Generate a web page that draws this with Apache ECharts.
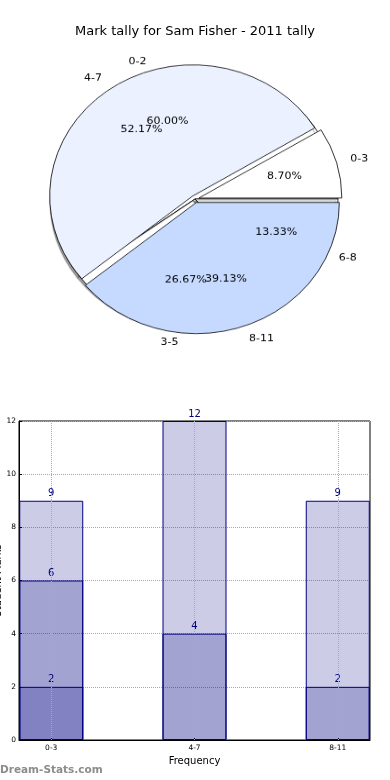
<!DOCTYPE html>
<html>
<head>
<meta charset="utf-8">
<script src="https://cdn.jsdelivr.net/npm/echarts@6/dist/echarts.min.js"></script>
<style>
html,body{margin:0;padding:0;background:#fff;}
#wrap{position:relative;width:390px;height:780px;}
#main{position:absolute;left:0;top:0;width:390px;height:780px;}
#pie{position:absolute;left:0;top:0;width:390px;height:400px;transform:scaleY(0.9172);transform-origin:0 0;}
</style>
</head>
<body>
<div id="wrap"><div id="main"></div><div id="pie"></div></div>
<script>
// Pie 1 (bottom layer)
const pieANames = ['0-2', '3-5', '6-8'];
const pieAValues = [9, 4, 2];
// Pie 2 (top layer)
const pieBNames = ['0-3', '4-7', '8-11'];
const pieBValues = [2, 12, 9];
// Bars (overlaid)
const barCategories = ['0-3', '4-7', '8-11'];
const barLayer1 = [9, 12, 9];
const barLayer2 = [6, 4, 2];
const barLayer3 = [2, null, null];
const yTicks = [0, 2, 4, 6, 8, 10, 12];

const FONT = 'DejaVu Sans';
const SY = 0.9172;          // vertical squash of the pie container (elliptical pie)
const R = 143;
const CX = 195, CY = 199 / SY;
const pieBColors = ['#ffffff', '#ebf1ff', '#c6d9ff'];

function pct(vals, i) {
  const s = vals.reduce((a, b) => a + b, 0);
  return (vals[i] / s * 100).toFixed(2) + '%';
}

const nameLabel = {
  show: true, position: 'outside', color: '#000', fontSize: 11, fontFamily: FONT,
  distanceToLabelLine: 0
};
const nameLabelLine = { show: false, length: R * 0.1, length2: 0 };

const pieSeries = [];
pieSeries.push({
  type: 'pie', center: [CX, CY], radius: R, startAngle: 0, clockwise: false,
  avoidLabelOverlap: false, silent: true, animation: false, z: 1,
  labelLayout: { hideOverlap: false },
  label: nameLabel, labelLine: nameLabelLine,
  itemStyle: { color: '#ffffff', borderColor: '#000', borderWidth: 0.8,
    shadowColor: 'rgba(0,0,0,0.4)', shadowBlur: 1, shadowOffsetX: -2, shadowOffsetY: 2 },
  emphasis: { disabled: true },
  data: pieANames.map((n, i) => ({ name: n, value: pieAValues[i] }))
});
pieSeries.push({
  type: 'pie', center: [CX, CY], radius: R, startAngle: 0, clockwise: false,
  avoidLabelOverlap: false, animation: false, z: 2,
  labelLayout: { hideOverlap: false },
  selectedMode: 'multiple', selectedOffset: 4,
  label: nameLabel, labelLine: nameLabelLine,
  itemStyle: { borderColor: '#000', borderWidth: 0.8 },
  select: { itemStyle: { borderColor: '#000', borderWidth: 0.8 } },
  emphasis: { disabled: true },
  data: pieBNames.map((n, i) => ({ name: n, value: pieBValues[i], selected: true,
    itemStyle: { color: pieBColors[i] } }))
});
[[pieANames, pieAValues, 0], [pieBNames, pieBValues, 4]].forEach(([names, vals, off]) => {
  pieSeries.push({
    type: 'pie', center: [CX, CY], radius: [R * 0.2, R], startAngle: 0, clockwise: false,
    avoidLabelOverlap: false, silent: true, animation: false, z: 5,
    labelLayout: { hideOverlap: false },
    selectedMode: off ? 'multiple' : false, selectedOffset: off,
    itemStyle: { color: 'rgba(0,0,0,0)', borderWidth: 0 },
    select: { itemStyle: { color: 'rgba(0,0,0,0)', borderWidth: 0 } },
    label: { show: true, position: 'inside', color: '#000', fontSize: 11, fontFamily: FONT,
      formatter: p => pct(vals, p.dataIndex) },
    labelLine: { show: false },
    data: names.map((n, i) => ({ name: n, value: vals[i], selected: !!off }))
  });
});

const barColor = 'rgba(0,0,128,0.2)';
function barSeries(vals, extra) {
  return Object.assign({
    type: 'bar', barWidth: 64, barGap: '-100%', animation: false,
    itemStyle: { color: barColor, borderColor: '#000080', borderWidth: 1 },
    label: { show: true, position: 'top', color: '#000080', fontSize: 10, fontFamily: FONT, distance: 2 },
    labelLayout: { hideOverlap: false },
    data: vals.map((v, i) => v == null ? null : [i, v])
  }, extra || {});
}
const barSeriesList = [
  barSeries(barLayer1, {
    markLine: {
      silent: true, symbol: 'none', animation: false, label: { show: false },
      lineStyle: { color: '#aaa', type: 'dotted', width: 1 },
      data: barCategories.map((c, i) => [
        { coord: [i, yTicks[0]] },
        { coord: [i, yTicks[yTicks.length - 1]] }
      ])
    }
  }),
  barSeries(barLayer2),
  barSeries(barLayer3)
];

const mainOption = {
  backgroundColor: '#fff',
  animation: false,
  title: {
    text: 'Mark tally for Sam Fisher - 2011 tally', left: 'center', top: 20,
    textStyle: { fontSize: 13, fontWeight: 'normal', color: '#000', fontFamily: FONT }
  },
  grid: { left: 19, right: 20, top: 421, bottom: 40, show: true, borderColor: '#000', borderWidth: 1,
    containLabel: false, outerBoundsMode: 'none' },
  xAxis: {
    type: 'value', min: -0.225, max: 2.225,
    name: 'Frequency', nameLocation: 'middle', nameGap: 16, nameMoveOverlap: false,
    nameTextStyle: { fontSize: 10, color: '#000', fontFamily: FONT },
    axisLine: { show: true, onZero: false, lineStyle: { color: '#000' } },
    splitLine: { show: false },
    axisTick: { show: true, inside: true, length: 3, customValues: [0, 1, 2], lineStyle: { color: '#000' } },
    axisLabel: { customValues: [0, 1, 2], fontSize: 7.5, color: '#000', fontFamily: FONT, margin: 4,
      formatter: v => barCategories[Math.round(v)] }
  },
  yAxis: {
    type: 'value', min: yTicks[0], max: yTicks[yTicks.length - 1], interval: 2,
    name: 'Student Marks', nameLocation: 'middle', nameGap: 16, nameMoveOverlap: false,
    nameTextStyle: { fontSize: 10, color: '#000', fontFamily: FONT },
    axisLine: { show: true, onZero: false, lineStyle: { color: '#000' } },
    axisTick: { show: true, inside: true, length: 3, lineStyle: { color: '#000' } },
    splitLine: { show: true, lineStyle: { color: '#aaa', type: 'dotted' } },
    axisLabel: { fontSize: 7.5, color: '#000', fontFamily: FONT, margin: 3 }
  },
  graphic: [{
    type: 'text', left: 0, top: 765,
    style: { text: 'Dream-Stats.com', fill: '#8c8c8c', fontSize: 10.5, fontWeight: 'bold', fontFamily: FONT }
  }],
  series: barSeriesList
};

const mainChart = echarts.init(document.getElementById('main'));
mainChart.setOption(mainOption);

const pieChart = echarts.init(document.getElementById('pie'));
pieChart.setOption({ animation: false, series: pieSeries });
</script>
</body>
</html>
